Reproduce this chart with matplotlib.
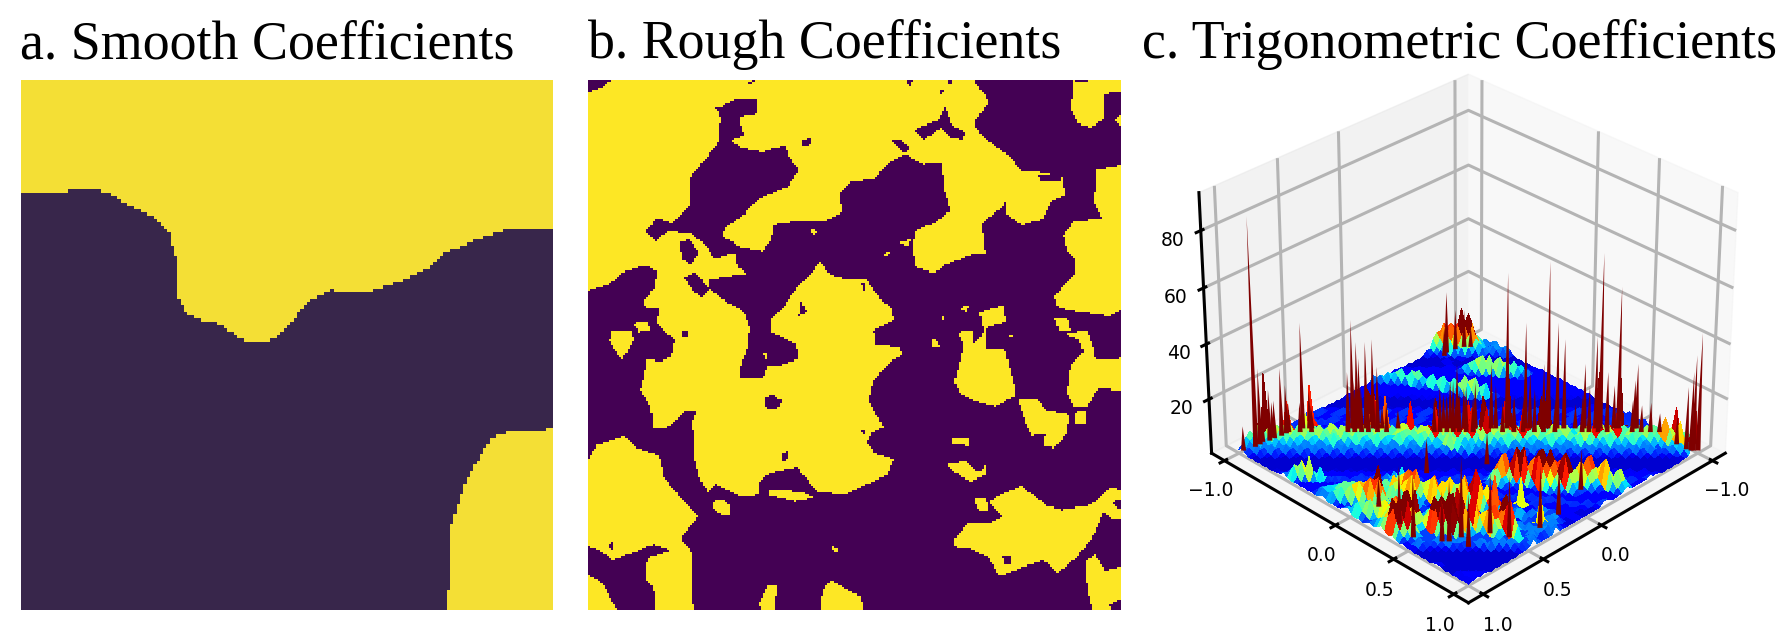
import numpy as np
import matplotlib
matplotlib.use("Agg")
import matplotlib.pyplot as plt
from matplotlib.colors import ListedColormap, Normalize
from matplotlib.path import Path
from mpl_toolkits.mplot3d.art3d import Poly3DCollection

titles = ["a. Smooth Coefficients", "b. Rough Coefficients", "c. Trigonometric Coefficients"]
tick_vals = [-1.0, 0.0, 0.5, 1.0]
z_ticks = [20, 40, 60, 80]

# panel a, outlines (panel spans 53..1467 / 197..1508)
a_top_x = [53, 53, 145, 210, 250, 290, 350, 405, 445, 460, 468, 470, 495, 540, 580, 620, 658, 695, 740, 775, 800, 825, 880, 965, 1010, 1080, 1130, 1180, 1250, 1340, 1467, 1467]
a_top_y = [197, 478, 475, 467, 467, 480, 510, 535, 570, 620, 640, 735, 775, 795, 800, 825, 848, 848, 828, 795, 760, 738, 717, 722, 712, 688, 665, 625, 597, 567, 562, 197]
a_corner_x = [1467, 1400, 1340, 1300, 1280, 1250, 1230, 1215, 1197, 1192, 1186, 1185, 1467]
a_corner_y = [1060, 1065, 1070, 1085, 1120, 1165, 1205, 1245, 1295, 1420, 1490, 1508, 1508]

# panel b, yellow regions and purple holes (panel spans 51..1513 / 197..1508)
b_main = [(115,197),(90,215),(51,230),(51,718),(110,700),(150,672),(210,655),(238,670),(235,710),(205,745),(210,760),(245,760),(240,800),(290,840),(280,880),(250,895),(215,885),(205,930),(195,965),(215,990),(225,1020),(230,1060),(270,1055),(320,1015),(350,1015),(335,1045),(345,1090),(345,1140),(360,1190),(380,1215),(400,1195),(430,1210),(470,1228),(520,1222),(520,1190),(550,1170),(625,1155),(660,1195),(680,1215),(760,1222),(820,1195),(870,1175),(890,1135),(840,1120),(815,1095),(830,1070),(862,1055),(845,1030),(820,990),(835,940),(880,895),(915,875),(905,858),(840,850),(835,815),(890,790),(885,765),(850,735),(815,690),(770,690),(720,680),(685,647),(665,675),(625,710),(590,755),(555,785),(555,820),(620,850),(632,885),(590,900),(545,905),(530,935),(470,935),(465,915),(490,860),(495,810),(480,770),(430,745),(385,715),(365,735),(340,720),(315,685),(345,672),(385,715),(380,690),(490,675),(460,660),(455,625),(395,640),(380,610),(330,575),(270,572),(235,595),(210,572),(240,537),(280,550),(330,510),(330,440),(410,350),(415,290),(405,270),(450,245),(515,245),(515,280),(465,290),(480,335),(440,345),(470,365),(530,375),(590,360),(605,390),(630,420),(600,460),(520,490),(480,530),(430,560),(420,585),(470,610),(530,620),(555,590),(560,555),(620,545),(700,545),(750,525),(740,480),(770,450),(840,440),(870,405),(920,380),(970,405),(1020,400),(1030,470),(1045,520),(1010,545),(950,570),(940,610),(950,660),(1000,675),(1030,655),(1100,630),(1140,625),(1130,550),(1190,510),(1200,490),(1200,530),(1240,555),(1300,540),(1320,500),(1360,480),(1350,435),(1290,425),(1240,420),(1200,380),(1135,340),(1110,305),(1150,250),(1110,197)]
b_holes = [
    [(300,600),(330,590),(355,625),(335,655),(310,640)],
    [(635,745),(650,770),(630,780)],
    [(310,815),(328,820),(325,835),(310,830)],
    [(535,985),(555,972),(585,990),(570,1010),(540,1012)],
    [(580,1120),(600,1115),(600,1135),(585,1140)],
    [(800,700),(812,700),(808,720)],
    [(945,320),(1015,295),(1030,260),(1050,310),(1085,325),(1080,345),(1050,340),(1020,315),(970,345)],
    [(880,345),(910,345),(935,365),(920,380),(890,355)],
    [(635,350),(660,340),(665,352),(645,365)],
    [(1010,220),(1025,225),(1020,235)],
    [(920,197),(940,197),(935,215)],
    [(1035,197),(1055,197),(1045,210)],
    [(490,205),(510,197),(500,210)],
    [(795,1060),(815,1060),(810,1075)],
    [(400,265),(420,262),(415,275)],
    [(1285,430),(1345,435),(1345,450),(1290,450)],
    [(555,372),(590,362),(585,378)],
]
b_islands = [
    [(545,1210),(640,1215),(670,1230),(620,1240),(550,1225)],
    [(115,815),(170,815),(175,840),(145,890),(120,860),(110,840)],
    [(175,800),(215,795),(225,815),(190,820)],
    [(51,1140),(75,1100),(150,1078),(180,1105),(245,1125),(260,1180),(300,1225),(355,1275),(305,1330),(335,1365),(340,1508),(235,1508),(230,1450),(210,1430),(215,1380),(280,1360),(230,1345),(180,1365),(115,1385),(85,1360),(51,1350)],
    [(51,1420),(90,1440),(130,1508),(51,1508)],
    [(395,1240),(420,1235),(440,1250),(440,1275),(410,1268),(392,1255)],
    [(520,1490),(545,1445),(570,1445),(565,1508),(525,1508)],
    [(690,1508),(695,1460),(715,1435),(800,1475),(805,1508)],
    [(715,1350),(740,1355),(730,1370)],
    [(1380,197),(1400,205),(1435,197),(1513,197),(1513,230),(1490,225),(1465,235),(1470,290),(1430,315),(1395,305),(1378,270)],
    [(1495,295),(1513,285),(1513,310)],
    [(1513,408),(1445,420),(1440,500),(1460,540),(1385,545),(1355,580),(1365,620),(1390,640),(1385,680),(1330,730),(1340,760),(1400,770),(1480,780),(1513,765)],
    [(1330,785),(1365,785),(1375,815),(1345,820)],
    [(1360,825),(1420,815),(1440,870),(1440,885),(1480,890),(1513,885),(1513,965),(1450,960),(1420,1005),(1385,1005),(1365,970),(1375,900),(1410,870),(1400,840)],
    [(1125,770),(1190,755),(1200,795),(1135,812)],
    [(1065,820),(1105,815),(1105,850),(1130,830),(1140,812),(1140,860),(1165,865),(1195,865),(1215,935),(1225,975),(1170,1005),(1110,990),(1070,970),(1055,945),(1075,880),(1080,850)],
    [(1230,985),(1280,985),(1310,1015),(1370,1025),(1365,1070),(1330,1108),(1300,1100),(1305,1075),(1280,1070),(1270,1080),(1250,1040)],
    [(1385,1020),(1415,1015),(1415,1045),(1385,1050)],
    [(1048,1085),(1095,1083),(1098,1102),(1050,1098)],
    [(1035,1145),(1090,1140),(1125,1170),(1140,1150),(1140,1175),(1100,1190),(1050,1165)],
    [(1055,1335),(1090,1295),(1165,1290),(1190,1275),(1150,1240),(1190,1220),(1240,1200),(1280,1230),(1310,1250),(1350,1260),(1420,1250),(1450,1235),(1485,1205),(1513,1210),(1513,1285),(1490,1285),(1465,1265),(1440,1320),(1395,1375),(1340,1415),(1300,1385),(1250,1400),(1180,1425),(1150,1380),(1100,1355),(1060,1355)],
    [(1110,1235),(1140,1230),(1150,1260),(1125,1265)],
    [(1415,1390),(1440,1370),(1470,1410),(1513,1400),(1513,1480),(1480,1495),(1485,1508),(1435,1508),(1420,1460)],
    [(905,600),(935,590),(930,608)],
    [(860,628),(878,622),(870,635)],
    [(990,835),(1005,835),(1018,860),(995,860)],
    [(1070,760),(1095,755),(1090,770)],
    [(1020,785),(1030,780),(1030,800)],
    [(530,870),(545,875),(540,890)],
    [(658,565),(685,570),(670,580)],
    [(1205,825),(1218,828),(1210,836)],
]
b_dark_spots = [
    [(1190,1375),(1210,1375),(1210,1395),(1192,1395)],
    [(1490,1240),(1513,1235),(1513,1255),(1500,1255)],
    [(105,1345),(120,1340),(118,1360)],
]

# panel c, heights by level code; row 0 is x=-1, column 0 is y=-1
height_codes = "0123456789abcdefg"
height_levels = [0.5, 1.0, 1.5, 2.5, 3.5, 4.5, 6, 7.5, 9, 11, 14, 16, 18, 20, 22, 24, 26]
height_rows = [
    "121212 2342343 1010101 1212112121212121 010101 1213121312132 3454565 b4",
    "21212 3423434 0101010 2121211212121212 101010 2131213121323 4545a65 545",
    "1212 3542343 1010101 1212121212112121 010101 1312131213123 4546576 9354",
    "212 4565432 0101010 2123212121212112 101012 1213121323123 4565697 5453",
    "12 36a9654 1010101 1235421212121212 010101 2131213121323 5456565 4343",
    "2 47b9753 0101012 1246531212121212 101010 1213121312d32 4565765 3232 1",
    "4689764 1010101 2356421212121121 010101 1312131213123 5465654 3232 1010",
    "689854 0101010 2467521212121212 101010 2131213121323 4565765 4343 10101",
    "79764 1210101 3575212121211212 010101 1213121312e32 4565456 3232 101010",
    "7653 1010101 4675212121121212 101010 1312131213123 5465a65 4343 1010101",
    "643 0101010 3564212121212121 010101 2131213121323 4565765 3232 10101010",
    "32 1012101 2453212121212112 101010 1213121312132 3457656 4343 10101010 1",
    "3 0101012 1232121212112121 010101 1312131213123 5464a65 3232 10101010 12",
    "1010101 2121212121212121 101010 2131213121323 4565765 4343 01010101 212",
    "010101 1212112121212123 010101 1213121312132 3454676 3232 10101010 1213",
    "10101 2121212121212356 101010 1312131213e23 4565456 4343 01010101 21212",
    "0101 1212121212124675 010101 2131213121323 5465765 3232 10101010 121212",
    "101 2121212121235764 101010 1213121312132 3457654 4343 01010101 2121312",
    "01 1212121212346542 010101 1312131213123 4b65765 3232 10101010 12131212",
    "1 2121212123565321 101010 2131213121323 5465456 4343 01010101 212121312",
    "1212121235642121 010101 121312131e132 3454765 3232 10101010 1213126754",
    "212123565321212 101010 1312131213123 4567654 4343 01010101 12123125753",
    "12123465421212 010101 2131213121323 5465a65 3232 10101010 121246897532",
    "1235642121212 101010 1213121312132 3a54765 4343 01010101 2125697531212",
    "124542121212 010101 1312131213123 4567654 3232 10101010 12135797532121",
    "13532121212 101010 2131213121323 9465456 4343 01010101 212136886421212",
    "2421212121 010101 1213121312132 3b54765 3232 10101010 121214575321212312",
    "421212121 101010 1312131213123 4565a65 4343 01010101 21213579753212123",
    "21212121 010101 2131213121323 3a65676 3232 10101010 1212468 9a75321212",
    "1212121 101010 1213121312132 3456a65 4343 01010101 212358a97532121 23",
    "212121 010101 1312131213123 45c5765 3232 10101010 123579a98642121212",
    "12121 101010 2131213121323 5456a65 4343 01010101 2124689a864212123",
    "2121 010101 1213121312132 3454765 3252 10101010 12469a753121212 32121",
    "121 101010 1312131213123 45b5765 5643 01010101 23568a5312121232 12121",
    "21 010101 2131213121323 5465a65 6732 10101010 13579753121212 312121212",
    "1 101010 1213121312132 3456765 5443 01010101 212479532121231212 12121",
    "010101 1312131213123 4a65765 3232 10101010 121246753212121231223 2",
    "10101 2131213121323 5465656 4343 01010101 21231243212123121213432 43",
    "0101 12131213121a2 3457654 3232 10101010 1212312121212312912123 23432",
    "101 1312131213a23 5465765 4343 01010101 2121312121213121232124323243",
    "01 2131213121ba3 4565456 3232 10101010 1213121212312121212312121 94324",
    "1 121312131b132 3457654 4343 01010101 1212131212312121231234543 23234",
    "1312131213123 5465765 3232 10101010 1212312121231234565432121 232343",
    "131213121312 4565656 4343 01010101 1212131212123245686a53212 2324323",
    "13121312132 3457654 3232 10101010 1212123121232458a97532121 2343234",
    "3121312132 4565765 4343 01010101 1212123121245679753212121 323243234",
    "121312132 3456546 3232 10101010 1212312123456875321212121 469a75323243",
    "121b2132 4565765 4343 01010101 1212312123245675321212121 346789a86232",
    "1312132 3457654 3232 10101010 1212612123134568753212121 346897532323",
    "121321 4565656 4343 01010101 1212512123456789753212121 345789753243 21",
    "13132 8465765 3232 10101010 1212412345689753212121234 56a975323243 101",
    "1232 4567654 4343 01010101 1213123456789653212123457 a97532323243 1010",
    "232 5465765 3232 10101010 1212312134565789653212123 456a97532324 10101",
    "32 3a54654 4343 01010101 1213121345658765321212345 67a975323243 101010",
    "2 4565765 3232 10101010 1212312134565675321212356 4789ab753232 1010101",
    "4565765 4343 01010101 1212131234565432173212121 5679a7532432 10101010",
    "565765 3232 10101010 1212312134566 8a7532121212 3568a7532323 101010101",
    "5g765 4343 01010101 1212312134565678975321479 8a7532323243 1010101010",
    "7565 3232 10101010 1212312134565678975321247 9a8753232432 10101010101",
    "465 4343 01010101 1213612134565678753212568 97a865323232 101010101012",
    "65 3232 10101010 1248512123456567532125678 75689a753232 1010101010121",
    "5 4343 01010101 1257412123454565321256753 46789a753243 10101010101212",
    "3232 10101010 1246312121343453212356432 34567a753212 101010101012121",
    "232 01010101 1232112121212321212342121 232343232121 1010101210101010",
]

# tall narrow spikes, position on the floor and height
spike_x = [.90, .86, .79, .75, .70, .66, .64, .88, .55, .52, .51, .98, .33, .35, .31, .27, .24, .30, .22, .20, .13, -.07, -.10, -.13, -.16, -.21,
           -.73, -.80, -.86, -.89, -.69, -.28, -.30, -.35, -.38, -.43, -.45, -.53, -.51, -.57, -.60, -.65, -.69, -.76, -.74, -.79, -.82, -.84, -.92, -.91,
           -.96, -.96, -.98, -.97, -1.0, .82, .86, .90, .36, .81, .70, .78, .74, .55, .50, .30, .12, -.17, .03,
           .38, .35, .32, .29, .25, .21, 0.0, -.025, -.055, -.083, -.11, -.14, -.17, -.30, -.35, -.39, -.44, -.48, -.53, -.65, -.68, -.72, -.76, -.87, -.91, -.95, -.99, .83, .75, .65, .59, .54]
spike_y = [-.96, -.96, -.95, -.95, -.94, -.94, -.94, -.98, -.91, -.88, -.87, -.98, -.69, -.71, -.67, -.63, -.60, -.66, -.58, -.56, -.49, -.29, -.26, -.23, -.20, -.15,
           -.93, -.92, -.90, -.87, -.91, -.08, -.06, -.01, .02, .07, .09, .17, .15, .21, .24, .29, .33, .40, .38, .43, .46, .48, .56, .55,
           .86, .94, .98, .97, 1.0, .06, .28, .44, 0.0, .59, .64, .62, .74, .73, .84, .90, .88, .79, .19,
           -.68, -.65, -.62, -.59, -.55, -.51, -.30, -.275, -.245, -.217, -.19, -.16, -.13, 0.0, .05, .09, .14, .18, .23, .35, .38, .42, .46, .57, .61, .65, .69, -.97, -.97, -.95, -.89, -.84]
spike_h = [16, 29, 20, 15, 26, 19, 12, 83, 40, 15, 8, 10, 41, 22, 33, 33, 34, 27, 24, 9, 8, 14, 19, 25, 16, 18,
           24, 16, 15, 9, 12, 25, 17, 58, 13, 40, 22, 62, 25, 40, 34, 10, 25, 65, 35, 22, 17, 53, 25, 19,
           12, 24, 36, 30, 44, 12, 22, 24, 14, 19, 30, 23, 20, 23, 23, 23, 19, 16, 13,
           16, 20, 18, 16, 15, 12, 14, 18, 15, 20, 16, 18, 14, 12, 14, 13, 17, 14, 13, 15, 18, 14, 12, 13, 11, 12, 8, 12, 14, 13, 12, 11]

N = len(height_rows)


def fill_mask(mask, poly, x0, x1, y0, y1, value):
    # grid cell centres in the same units as the traced outline
    n = mask.shape[0]
    gx = x0 + (np.arange(n) + 0.5) / n * (x1 - x0)
    gy = y0 + (np.arange(n) + 0.5) / n * (y1 - y0)
    xx, yy = np.meshgrid(gx, gy)
    pts = np.column_stack([xx.ravel(), yy.ravel()])
    inside = Path(poly).contains_points(pts).reshape(n, n)
    mask[inside] = value


fig = plt.figure(figsize=(17.91, 6.35), dpi=100)
W, H = 1791.0, 635.0


def panel(left, top, right, bottom, **kw):
    return fig.add_axes([left / W, 1 - bottom / H, (right - left) / W, (bottom - top) / H], **kw)


# a
mask_a = np.zeros((160, 160), dtype=bool)
fill_mask(mask_a, list(zip(a_top_x, a_top_y)), 53, 1467, 197, 1508, True)
fill_mask(mask_a, list(zip(a_corner_x, a_corner_y)), 53, 1467, 197, 1508, True)
ax = panel(20.5, 80, 552, 610)
ax.imshow(mask_a, cmap=ListedColormap(["#38264b", "#f4df35"]), vmin=0, vmax=1, interpolation="nearest", aspect="auto")
ax.axis("off")

# b
mask_b = np.zeros((256, 256), dtype=bool)
fill_mask(mask_b, b_main, 51, 1513, 197, 1508, True)
for p in b_holes:
    fill_mask(mask_b, p, 51, 1513, 197, 1508, False)
for p in b_islands:
    fill_mask(mask_b, p, 51, 1513, 197, 1508, True)
for p in b_dark_spots:
    fill_mask(mask_b, p, 51, 1513, 197, 1508, False)
ax = panel(588, 80, 1120, 610)
ax.imshow(mask_b, cmap=ListedColormap(["#440154", "#fde725"]), vmin=0, vmax=1, interpolation="nearest", aspect="auto")
ax.axis("off")

# c
Z = np.array([[height_levels[height_codes.index(ch)] for ch in r.replace(" ", "").ljust(N, "1")[:N]] for r in height_rows])
x = np.linspace(-1, 1, N)
y = np.linspace(-1, 1, N)
X, Y = np.meshgrid(x, y, indexing="ij")
# face colour sits between the mean and the highest corner so bumps keep their bright tops
corners = np.stack([Z, np.roll(Z, -1, 0), np.roll(Z, -1, 1), np.roll(np.roll(Z, -1, 0), -1, 1)])
Zface = 0.5 * (corners.max(axis=0) + corners.mean(axis=0))
colors = plt.cm.jet(Normalize(0, 12)(Zface))

ax = panel(1137, 39.5, 1784, 628.5, projection="3d")
ax.computed_zorder = False
ax.plot_surface(X, Y, Z, facecolors=colors, rstride=1, cstride=1, linewidth=0, antialiased=False, shade=False, zorder=1)
spikes = [[(sx - 0.011, sy + 0.011, 1.0), (sx + 0.011, sy - 0.011, 1.0), (sx, sy, sh)] for sx, sy, sh in zip(spike_x, spike_y, spike_h)]
ax.add_collection3d(Poly3DCollection(spikes, facecolors="#7f0000", edgecolors="none", zorder=2))
ax.view_init(elev=30.5, azim=45)
ax.set_box_aspect((4, 4, 3.25))
ax.set_xlim(-1.12, 1.12)
ax.set_ylim(-1.12, 1.12)
ax.set_zlim(0, 93)
ax.set_xticks(tick_vals)
ax.set_yticks(tick_vals)
ax.set_zticks(z_ticks)
ax.tick_params(labelsize=13.5, width=2)
for a in (ax.xaxis, ax.yaxis, ax.zaxis):
    a.line.set_linewidth(2.2)
    a.line.set_color("black")
    a._axinfo["tick"]["linewidth"] = {True: 2.2, False: 1.0}
    a._axinfo["grid"]["linewidth"] = 2.2
    a._axinfo["grid"]["color"] = "#b4b4b4"

for txt, px in zip(titles, [20, 588, 1142]):
    fig.text(px / W, 1 - 58.5 / H, txt, family="Liberation Serif", fontsize=38.8, color="black", va="baseline", ha="left")

fig.savefig("out.png", dpi=100)
